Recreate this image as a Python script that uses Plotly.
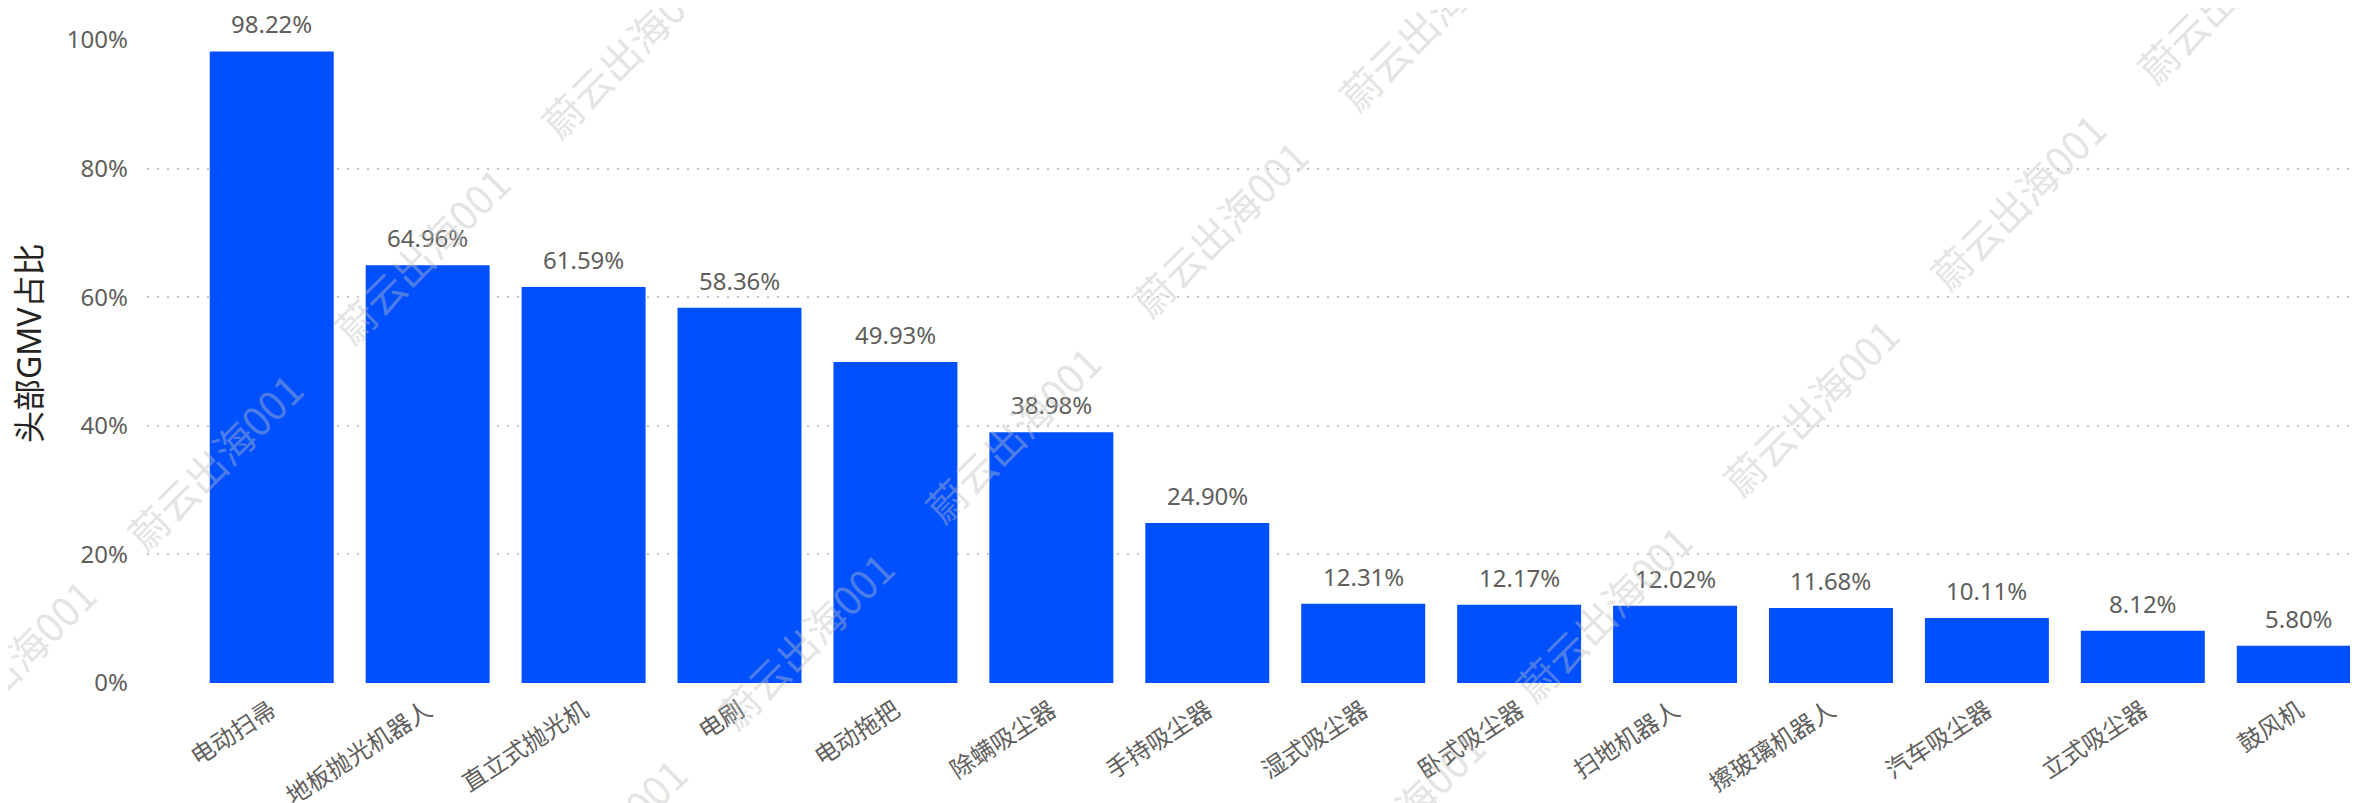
import plotly.graph_objects as go

categories = ['电动扫帚', '地板抛光机器人', '直立式抛光机', '电刷', '电动拖把', '除螨吸尘器',
              '手持吸尘器', '湿式吸尘器', '卧式吸尘器', '扫地机器人', '擦玻璃机器人',
              '汽车吸尘器', '立式吸尘器', '鼓风机']
share_pct = [98.22, 64.96, 61.59, 58.36, 49.93, 38.98, 24.90, 12.31, 12.17, 12.02,
             11.68, 10.11, 8.12, 5.80]
y_ticks = [0, 0.2, 0.4, 0.6, 0.8, 1.0]
y_title = '头部GMV占比'
watermark_text = '蔚云出海001'

values = [v / 100 for v in share_pct]

# page body has an 8px default margin; compensate so the chart fills the window
OFF = 8
W, H = 2358 - OFF, 803 - OFF
ML, MR, MT, MB = 147 - OFF, 0, 40 - OFF, 120
PW, PH = W - ML - MR, H - MT - MB

FONT = 'Segoe UI, Noto Sans, Noto Sans CJK SC, sans-serif'
GRAY = '#605E5C'


def to_paper(px, py):
    """screen pixel -> paper coordinates"""
    return (px - OFF - ML) / PW, (MT + PH - (py - OFF)) / PH


fig = go.Figure()
fig.add_trace(go.Bar(
    x=categories, y=values,
    marker=dict(color='#0050FF', line=dict(width=0)),
    hoverinfo='skip',
))

annotations = []
for c, v, p in zip(categories, values, share_pct):
    annotations.append(dict(
        x=c, y=v, xref='x', yref='y', text=f'{p:.2f}%', showarrow=False,
        yanchor='bottom', xanchor='center', yshift=9,
        font=dict(family=FONT, size=24, color=GRAY),
    ))

# y-axis title
tx, ty = to_paper(28, 343)
annotations.append(dict(
    x=tx, y=ty, xref='paper', yref='paper',
    text=y_title, textangle=-90, showarrow=False, xanchor='center', yanchor='middle',
    font=dict(family=FONT, size=32, color='#252423'),
))

# watermark lattice (screen pixel centres)
base = (421, 255)
u = (207, -206)
v = (798, -27)
cells = [(-2, 0), (-1, 0), (0, 0), (1, 0),
         (-3, 1), (-2, 1), (-1, 1), (0, 1), (1, 1),
         (-3, 2), (-2, 2), (-1, 2), (0, 2), (1, 2)]
for i, j in cells:
    px = base[0] + i * u[0] + j * v[0]
    py = base[1] + i * u[1] + j * v[1]
    wx, wy = to_paper(px, py)
    annotations.append(dict(
        x=wx, y=wy, xref='paper', yref='paper',
        text=watermark_text, textangle=-45, showarrow=False,
        xanchor='center', yanchor='middle',
        font=dict(family='Noto Sans CJK SC, sans-serif', size=40,
                  color='rgba(190,190,190,0.42)'),
    ))

fig.update_layout(
    width=W, height=H,
    margin=dict(l=ML, r=MR, t=MT, b=MB, autoexpand=False),
    paper_bgcolor='white', plot_bgcolor='white',
    bargap=0.205,
    showlegend=False,
    annotations=annotations,
    xaxis=dict(
        type='category', range=[-0.80, 13.38],
        showgrid=False, showline=False, zeroline=False, ticks='',
        tickangle=-33, ticklabelstandoff=8,
        tickfont=dict(family=FONT, size=24, color=GRAY),
        automargin=False, fixedrange=True,
    ),
    yaxis=dict(
        range=[0, 1.0], tickvals=y_ticks, tickformat='.0%',
        showgrid=True, gridcolor='#C8C6C4', gridwidth=2, griddash='2px,8px',
        showline=False, zeroline=False, ticks='', ticklabelstandoff=18,
        tickfont=dict(family=FONT, size=24, color=GRAY),
        automargin=False, fixedrange=True,
    ),
)

fig.write_html('out.html', config={'displayModeBar': False})
